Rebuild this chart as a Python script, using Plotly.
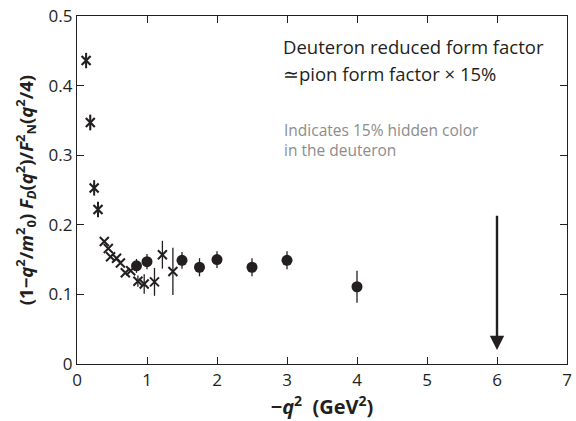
import plotly.graph_objects as go

# Low -q^2 measurements (asterisks)
star_x = [0.13, 0.19, 0.245, 0.30]
star_y = [0.436, 0.347, 0.253, 0.222]
star_err = [0.006, 0.011, 0.005, 0.005]

# Intermediate measurements (crosses)
cross_x = [0.39, 0.447, 0.48, 0.565, 0.62, 0.69, 0.767, 0.87, 0.96, 1.107, 1.22, 1.37]
cross_y = [0.176, 0.166, 0.154, 0.152, 0.145, 0.131, 0.134, 0.119, 0.115, 0.118, 0.157, 0.133]
cross_err = [0.0, 0.0, 0.0, 0.0, 0.0, 0.0, 0.0, 0.008, 0.014, 0.02, 0.02, 0.034]

# High -q^2 measurements (filled circles)
dot_x = [0.85, 1.0, 1.5, 1.75, 2.0, 2.5, 3.0, 4.0]
dot_y = [0.141, 0.147, 0.149, 0.139, 0.150, 0.139, 0.149, 0.111]
dot_err = [0.01, 0.011, 0.012, 0.013, 0.012, 0.013, 0.013, 0.023]

x_ticks = [0, 1, 2, 3, 4, 5, 6, 7]
y_ticks = [0, 0.1, 0.2, 0.3, 0.4, 0.5]
y_tick_text = ["0", "0.1", "0.2", "0.3", "0.4", "0.5"]

# Arrow marking the predicted scale
arrow_x = 6
arrow_top = 0.215
arrow_tip = 0.02

INK = "#231f20"
FONT = "Open Sans, Noto Sans, sans-serif"

fig = go.Figure()

err_style = dict(type="data", thickness=1.3, width=0, color=INK)

fig.add_trace(go.Scatter(
    x=star_x, y=star_y, mode="markers",
    marker=dict(symbol="x-thin-open", size=9, color=INK,
                line=dict(width=2.2, color=INK)),
    error_y=dict(array=star_err, **err_style),
    showlegend=False,
))
fig.add_trace(go.Scatter(
    x=star_x, y=star_y, mode="markers",
    marker=dict(symbol="line-ns-open", size=11, color=INK,
                line=dict(width=2.0, color=INK)),
    showlegend=False,
))
fig.add_trace(go.Scatter(
    x=cross_x, y=cross_y, mode="markers",
    marker=dict(symbol="x-thin-open", size=9, color=INK,
                line=dict(width=2.0, color=INK)),
    error_y=dict(array=cross_err, **err_style),
    showlegend=False,
))
fig.add_trace(go.Scatter(
    x=dot_x, y=dot_y, mode="markers",
    marker=dict(symbol="circle", size=11, color=INK, line=dict(width=0)),
    error_y=dict(array=dot_err, **err_style),
    showlegend=False,
))

fig.add_annotation(
    x=arrow_x, y=arrow_tip, ax=arrow_x, ay=arrow_top,
    xref="x", yref="y", axref="x", ayref="y",
    showarrow=True, arrowhead=2, arrowsize=1.2, arrowwidth=2.4,
    arrowcolor=INK, text="",
)

x0_px, x1_px, y0_px, y1_px = 76.7, 572.0, 364.0, 10.7


def px_to_paper(px, py):
    return (px - x0_px) / (x1_px - x0_px), (y0_px - py) / (y0_px - y1_px)


texts = [
    ("Deuteron reduced form factor", 283, 42, 18.5, INK),
    ("≃pion form factor × 15%", 283, 69, 18.5, INK),
    ("Indicates 15% hidden color", 284, 126, 15.5, "#8c8c8c"),
    ("in the deuteron", 284, 147, 15.5, "#8c8c8c"),
]
for txt, px, py, size, col in texts:
    xp, yp = px_to_paper(px, py)
    fig.add_annotation(
        x=xp, y=yp, xref="paper", yref="paper", text=txt, showarrow=False,
        xanchor="left", yanchor="middle",
        font=dict(family=FONT, size=size, color=col),
    )

axis_common = dict(
    showline=True, linecolor=INK, linewidth=1.3, mirror="allticks",
    ticks="inside", ticklen=7, tickwidth=1.2, tickcolor=INK,
    showgrid=False, zeroline=False, ticklabeloverflow="allow",
    tickfont=dict(family=FONT, size=17, color=INK),
)

fig.update_xaxes(
    range=[0, 7], tickvals=x_ticks, **axis_common,
    title=dict(text="<b>−<i>q</i><sup>2</sup>  (GeV<sup>2</sup>)</b>",
               font=dict(family=FONT, size=20, color=INK), standoff=8),
)
fig.update_yaxes(
    range=[0, 0.5], tickvals=y_ticks, ticktext=y_tick_text, **axis_common,
    title=dict(
        text="<b>(1−<i>q</i><sup>2</sup>/<i>m</i><sup>2</sup><sub>0</sub>) "
             "<i>F<sub>D</sub></i>(<i>q</i><sup>2</sup>)/<i>F</i><sup>2</sup><sub>N</sub>"
             "(<i>q</i><sup>2</sup>/4)</b>",
        font=dict(family=FONT, size=18.5, color=INK), standoff=10),
)

fig.update_layout(
    width=576, height=421,
    margin=dict(l=76.7, r=4, t=10.7, b=57),
    plot_bgcolor="white", paper_bgcolor="white",
    font=dict(family=FONT, color=INK),
)

fig.write_html("out.html")
